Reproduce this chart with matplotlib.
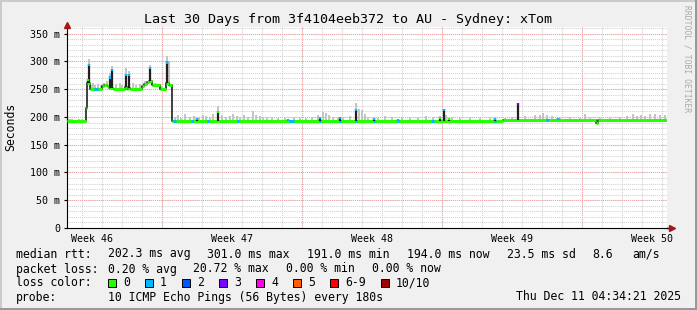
import numpy as np
import matplotlib
matplotlib.use("Agg")
import matplotlib.pyplot as plt
from matplotlib.patches import Rectangle

plt.rcParams['font.family'] = ['DejaVu Sans Mono']

# time axis in days from the left edge of the graph (30 days)
week_starts = [4.75, 11.75, 18.75, 25.75]
week_centers = [1.25, 8.25, 15.25, 22.25, 29.25]
week_labels = ["Week 46", "Week 47", "Week 48", "Week 49", "Week 50"]

# median rtt (ms), step breakpoints
med_t = [0, 0.93, 1.0, 1.15, 1.75, 1.85, 2.0, 2.1, 2.3, 2.9, 3.0, 3.05, 3.15,
         3.75, 3.85, 4.0, 4.1, 4.25, 4.65, 4.95, 5.1, 5.25, 21.8, 26.45, 26.55, 30]
med_v = [192, 217, 262, 251, 255, 258, 256, 252, 251, 254, 251, 253, 251,
         256, 260, 263, 265, 257, 250, 262, 257, 192.5, 194, 189, 194, 194]

# short median spikes: time, top (ms), loss bucket at the tip
spike_t = [1.05, 1.12, 2.15, 2.25, 2.95, 3.1, 4.15, 5.02,
           6.5, 7.55, 11.05, 12.65, 13.65, 14.45, 15.35, 16.55, 18.65, 18.85,
           19.1, 21.4, 22.55, 24.05, 24.55, 29.75]
spike_top = [268, 296, 273, 287, 277, 278, 290, 300,
             198, 211, 197, 200, 200, 214, 198, 197, 200, 214,
             199, 198, 226, 197, 199, 197]
spike_loss = [0, 1, 1, 1, 1, 1, 1, 1,
              1, 0, 1, 1, 1, 1, 1, 1, 0, 1,
              0, 1, 3, 1, 1, 0]

# periods where the median was drawn with 1/10 loss
loss1_start = [1.35, 5.3, 6.2, 7.0, 8.5, 11.1, 12.6, 13.6, 14.4, 15.3, 16.5, 18.2, 21.35, 23.95]
loss1_end = [1.55, 5.45, 6.3, 7.1, 8.6, 11.35, 12.7, 13.7, 14.5, 15.4, 16.6, 18.35, 21.45, 24.05]

# smoke (spread of the pings): time, upper value (ms)
smoke_t = [0.05, 0.15, 0.25, 0.4, 0.6, 0.75,
           1.1, 1.2, 1.3, 1.4, 1.55, 1.7, 1.85, 2.0, 2.15, 2.25, 2.45, 2.65, 2.75, 2.95,
           3.1, 3.3, 3.45, 3.65, 3.9, 4.15, 4.4, 4.55, 4.75, 5.0, 5.1,
           5.4, 5.55, 5.7, 5.9, 6.15, 6.35, 6.6, 6.8, 6.95, 7.15, 7.3, 7.55, 7.75, 7.95,
           8.15, 8.3, 8.5, 8.65, 8.85, 9.05, 9.3, 9.45, 9.65, 9.8, 10.0, 10.25, 10.55,
           10.9, 11.35, 11.65, 11.95, 12.25, 12.55, 12.8, 12.95, 13.1, 13.3, 13.55, 13.8,
           14.15, 14.45, 14.6, 14.75, 14.9, 15.05, 15.55, 15.9, 16.25, 16.75, 17.15, 17.55,
           17.95, 18.3, 18.65, 18.95, 19.25, 19.65, 20.15, 20.65, 21.15, 21.9, 22.25, 22.9,
           23.4, 23.65, 23.8, 24.0, 24.25, 24.65, 25.15, 25.65, 25.9, 26.15, 26.65, 27.15,
           27.65, 28.0, 28.3, 28.5, 28.7, 28.9, 29.15, 29.4, 29.65, 29.9]
smoke_hi = [197, 196, 197, 195, 196, 197,
            305, 258, 262, 258, 260, 258, 262, 265, 280, 291, 260, 262, 258, 288,
            282, 262, 258, 260, 264, 293, 262, 258, 256, 309, 300,
            200, 203, 199, 205, 200, 202, 198, 204, 201, 199, 205, 219, 203, 200,
            202, 205, 201, 199, 203, 200, 211, 204, 201, 200, 199, 198, 199,
            198, 200, 199, 198, 200, 203, 209, 207, 204, 200, 198, 200,
            202, 225, 215, 212, 206, 199, 199, 202, 200, 199, 198, 199,
            201, 200, 202, 203, 200, 198, 199, 198, 199, 198, 200, 201,
            204, 203, 208, 204, 201, 199, 200, 199, 205, 199, 199, 198,
            200, 202, 205, 202, 204, 201, 206, 205, 204, 203]

yticks = [0, 50, 100, 150, 200, 250, 300, 350]
ytick_labels = ["0", "50 m", "100 m", "150 m", "200 m", "250 m", "300 m", "350 m"]

loss_colors = ['#26ff00', '#00b8ff', '#0059ff', '#7e00ff', '#ff00ea', '#ff5e00', '#ff0000', '#a10000']
loss_names = ['0', '1', '2', '3', '4', '5', '6-9', '10/10']

W, H = 697, 310
fig = plt.figure(figsize=(W / 100, H / 100), dpi=100, facecolor='#f0f0f0')


def px(x, y):
    return x / W, 1 - y / H


ax = fig.add_axes([67 / W, (H - 228) / H, 600 / W, 201 / H])
ax.set_facecolor('white')
ax.set_xlim(0, 30)
ax.set_ylim(0, 362)

# grid
grid_style = dict(linestyle=(0, (1, 1)), linewidth=0.75)
for d in np.arange(0.75, 30, 1.0):
    ax.axvline(d, color='#d0d0d0', zorder=0, **grid_style)
for v in range(10, 361, 10):
    ax.axhline(v, color='#d0d0d0', zorder=0, **grid_style)
for v in yticks[1:]:
    ax.axhline(v, color='#f2a0a0', zorder=0.5, **grid_style)
for w in week_starts:
    ax.axvline(w, color='#f2a0a0', zorder=0.5, **grid_style)

med_t = np.array(med_t)
med_v = np.array(med_v)


def median_at(t):
    return med_v[np.searchsorted(med_t, t, side='right') - 1]


# smoke
smoke_t = np.array(smoke_t)
smoke_hi = np.array(smoke_hi)
base = np.array([median_at(t) for t in smoke_t]) - 1
ax.bar(smoke_t, smoke_hi - base, bottom=base, width=0.07, color='#c4c4c4', zorder=2)

# median: black risers, green flats
ax.step(med_t, med_v, where='post', color='#202020', lw=1.2, zorder=3)
ax.hlines(med_v[:-1], med_t[:-1], med_t[1:], color=loss_colors[0], lw=2.2, zorder=4)
for a, b in zip(loss1_start, loss1_end):
    ax.hlines(median_at(a), a, b, color=loss_colors[1], lw=2.2, zorder=4)

# spikes
for t, top, lc in zip(spike_t, spike_top, spike_loss):
    b = median_at(t)
    ax.vlines(t, b, top, color='#202020', lw=1.6, zorder=5)
    ax.vlines(t, top - 4, top, color=loss_colors[lc], lw=1.6, zorder=6)

# axes
for s in ['top', 'right']:
    ax.spines[s].set_visible(False)
ax.spines['left'].set_color('black')
ax.spines['bottom'].set_color('black')
ax.spines['left'].set_bounds(0, 362)
ax.plot([0], [366], marker='^', color='#a01818', markersize=4.5, clip_on=False, zorder=10)
ax.plot([30, 30.2], [0, 0], color='black', lw=1, clip_on=False)
ax.plot([30.25], [0], marker='>', color='#a01818', markersize=4.5, clip_on=False, zorder=10)

ax.set_yticks(yticks)
ax.set_yticklabels(ytick_labels)
ax.set_xticks(week_centers)
ax.set_xticklabels(week_labels)
ax.tick_params(axis='y', length=2, width=0.8, pad=3, labelsize=7.2)
ax.tick_params(axis='x', length=0, pad=4, labelsize=7.2)

# texts
fig.text(*px(348, 19), "Last 30 Days from 3f4104eeb372 to AU - Sydney: xTom",
         ha='center', va='center', size=9.6)
fig.text(*px(11, 127), "Seconds", rotation=90, ha='center', va='center', size=8.3)
fig.text(*px(687, 59), "RRDTOOL / TOBI OETIKER", rotation=270, ha='center', va='center',
         size=5.8, color='#aaaaaa')

fs = 8.3
row1 = [(16, "median rtt:"), (107.5, "202.3 ms avg"), (207, "301.0 ms max"), (307, "191.0 ms min"),
        (407, "194.0 ms now"), (507, "23.5 ms sd"), (592, "8.6"), (632, "am/s")]
row2 = [(16, "packet loss:"), (107.5, "0.20 % avg"), (193, "20.72 % max"), (286, "0.00 % min"),
        (372, "0.00 % now")]
for x, s in row1:
    fig.text(*px(x, 254), s, ha='left', va='center', size=fs)
for x, s in row2:
    fig.text(*px(x, 269), s, ha='left', va='center', size=fs)

fig.text(*px(16, 283), "loss color:", ha='left', va='center', size=fs)
box_x = [108, 145, 182, 219, 256, 293, 330, 381]
for x, c, name in zip(box_x, loss_colors, loss_names):
    fig.patches.append(Rectangle(px(x, 287), 8 / W, 8 / H, transform=fig.transFigure,
                                 facecolor=c, edgecolor='black', lw=0.7))
    fig.text(*px(x + 15, 283), name, ha='left', va='center', size=fs)

fig.text(*px(16, 297), "probe:", ha='left', va='center', size=fs)
fig.text(*px(107.5, 297), "10 ICMP Echo Pings (56 Bytes) every 180s", ha='left', va='center', size=fs)
fig.text(*px(681, 297), "Thu Dec 11 04:34:21 2025", ha='right', va='center', size=fs)

# frame
for (x, y, w, h, c) in [(0, 0, W, 2, '#cbcbcb'), (0, 0, 2, H, '#cbcbcb'),
                        (W - 2, 0, 2, H, '#999999'), (0, H - 2, W, 2, '#999999')]:
    fig.patches.append(Rectangle(px(x, y + h), w / W, h / H, transform=fig.transFigure,
                                 facecolor=c, edgecolor='none'))

fig.savefig("out.png", dpi=100, facecolor=fig.get_facecolor())
